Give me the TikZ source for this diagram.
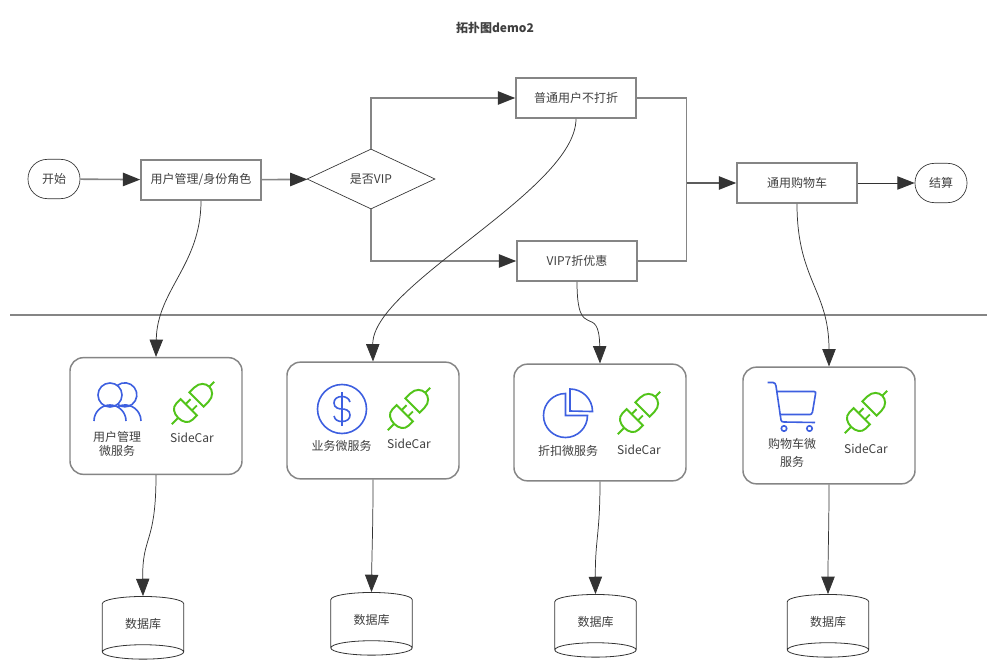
\documentclass[tikz,border=0pt]{standalone}
\usepackage{fontspec}
\setmainfont{Noto Sans CJK SC}
\usetikzlibrary{arrows.meta, shapes.geometric}

\definecolor{linegray}{HTML}{858585}
\definecolor{tipdark}{HTML}{333333}
\definecolor{textdark}{HTML}{404040}
\definecolor{iconblue}{HTML}{3D5FE0}
\definecolor{plugreen}{HTML}{52C41A}

\tikzset{
  every node/.style={font=\fontsize{9pt}{11pt}\selectfont, text=textdark, inner sep=0pt},
  flowbox/.style={draw=linegray, line width=1.2pt, minimum width=90pt, minimum height=30pt},
  endbox/.style={draw=tipdark, line width=0.5pt, rounded corners=14.5pt, minimum width=39pt, minimum height=29.5pt},
  choicebox/.style={draw=tipdark, line width=0.5pt, diamond, aspect=2.13, minimum width=96pt, minimum height=45pt},
  svcbox/.style={draw=linegray, line width=1.1pt, rounded corners=10pt, minimum width=129pt, minimum height=87.5pt},
  dbbox/.style={draw=tipdark, line width=0.6pt, cylinder, shape border rotate=270, shape aspect=0.4, minimum width=61pt, minimum height=47pt},
  tip/.style={-{Triangle[length=13pt,width=10pt,color=tipdark]}},
  flowline/.style={draw=linegray, line width=1.2pt},
  curveline/.style={draw=tipdark, line width=0.55pt, tip},
  iconline/.style={draw=iconblue, line width=1.2pt},
  plugline/.style={draw=plugreen, line width=1.45pt},
  plugicon/.pic={
    \begin{scope}[rotate=45, plugline]
      \draw (-6,-11.5) -- (-12,-11.5) .. controls (-18,-11.5) and (-21,-6) .. (-21,0)
        .. controls (-21,6) and (-18,11.5) .. (-12,11.5) -- (-6,11.5) -- cycle;
      \draw (5,-10) -- (12,-10) .. controls (19,-10) and (23,-5) .. (23,0)
        .. controls (23,5) and (19,10) .. (12,10) -- (5,10) -- cycle;
      \draw (-30,0) -- (-21,0);
      \draw (23,0) -- (30,0);
      \draw (-6,-4.5) -- (1,-4.5);
      \draw (-6,4.5) -- (1,4.5);
    \end{scope}
  }
}

\begin{document}
\begin{tikzpicture}[x=0.75pt, y=-0.75pt]
  \path[use as bounding box, fill=white] (0,0) rectangle (997,667);

  % Title and the separating line
  \node[font=\fontsize{9pt}{11pt}\selectfont\bfseries] (title) at (495,28) {拓扑图demo2};
  \coordinate (sepleft) at (10,315);
  \coordinate (sepright) at (987,315);
  \draw[flowline, line width=1pt] (sepleft) -- (sepright);

  % Upper flow nodes
  \node[endbox] (start) at (54,179) {开始};
  \node[flowbox] (user) at (201,180) {用户管理/身份角色};
  \node[choicebox] (isvip) at (371,179) {是否VIP};
  \node[flowbox] (normal) at (576,98) {普通用户不打折};
  \node[flowbox] (vip) at (577,261) {VIP7折优惠};
  \node[flowbox] (cart) at (797,183) {通用购物车};
  \node[endbox] (finish) at (941,183) {结算};
  \coordinate (merge) at (686.5,183);

  % Upper flow lines
  \draw[flowline, tip] (start) -- (user);
  \draw[flowline, tip] (user) -- (isvip);
  \draw[flowline, tip] (isvip.north) |- (normal.west);
  \draw[flowline, tip] (isvip.south) |- (vip.west);
  \draw[flowline] (normal.east) -| (merge);
  \draw[flowline] (vip.east) -| (merge);
  \draw[flowline, tip, draw=tipdark!80!white] (merge) -- (cart.west);
  \draw[curveline, line width=0.7pt] (cart) -- (finish);

  % Service boxes
  \node[svcbox] (svcuser) at (156,416) {};
  \node[svcbox] (svcbiz) at (373,420.5) {};
  \node[svcbox] (svcdisc) at (600,422.5) {};
  \node[svcbox] (svccart) at (829,425.5) {};

  % Service labels
  \node[align=center] (lbluser) at (117,444) {用户管理\\微服务};
  \node (lblbiz) at (341.5,446) {业务微服务};
  \node (lbldisc) at (568,451) {折扣微服务};
  \node[align=center, font=\fontsize{9pt}{14pt}\selectfont] (lblcart) at (792,453) {购物车微\\服务};
  \node (caruser) at (192,438) {SideCar};
  \node (carbiz) at (409,444) {SideCar};
  \node (cardisc) at (639,450) {SideCar};
  \node (carcart) at (866,449) {SideCar};

  % Plug icons
  \pic at (193,403) {plugicon};
  \pic at (409,409) {plugicon};
  \pic at (639,413) {plugicon};
  \pic at (866,412) {plugicon};

  % User icon
  \draw[iconline] (110,395) circle (12);
  \draw[iconline] (117.5,385.3) arc[start angle=127.6, end angle=-127.6, radius=9pt];
  \draw[iconline] (94,421) arc[start angle=180, end angle=0, radius=12pt];
  \draw[iconline] (117,407.1) arc[start angle=120, end angle=0, radius=12pt];

  % Dollar icon
  \draw[iconline] (342,409) circle (24.5);
  \begin{scope}[shift={(342,409)}]
    \draw[iconline] (0,-17) -- (0,17);
    \draw[iconline] (8,-7) .. controls (7,-11) and (3,-12.5) .. (0,-12.5)
      .. controls (-5,-12.5) and (-8,-10) .. (-8,-6)
      .. controls (-8,-1) and (-3,0) .. (0,0)
      .. controls (3,0) and (8,1) .. (8,6)
      .. controls (8,10) and (5,12.5) .. (0,12.5)
      .. controls (-4,12.5) and (-7,11) .. (-8,7);
  \end{scope}

  % Pie icon
  \draw[iconline] (565.5,393.5) arc[start angle=90, end angle=360, radius=16.5pt] -- (565.5,415.5) -- cycle;
  \draw[iconline] (570,389) arc[start angle=90, end angle=0, radius=16.9pt] -- (570,411) -- cycle;

  % Cart icon
  \draw[iconline] (767.5,382.5) -- (773,382.5) .. controls (775,382.5) and (775.5,384) .. (776,386)
    -- (781,420) .. controls (781.5,421.5) and (782,422) .. (784,422) -- (815,422.5);
  \draw[iconline] (776.5,391.5) -- (814,391.5) .. controls (815.5,391.5) and (816,392.5) .. (815.5,394)
    -- (812.5,412) .. controls (812,414) and (811,414.5) .. (810,414.5) -- (779.5,414.5);
  \draw[iconline] (784,428.5) circle (2.7);
  \draw[iconline] (809.5,428.5) circle (2.7);

  % Databases
  \node[dbbox] (dbuser) at (143,624) {数据库};
  \node[dbbox] (dbbiz) at (371.5,620) {数据库};
  \node[dbbox] (dbdisc) at (595.5,622) {数据库};
  \node[dbbox] (dbcart) at (828,622) {数据库};

  % Curved lines down to the services
  \draw[curveline] (user.south) .. controls (201,265) and (157,290) .. (svcuser.north);
  \draw[curveline] (normal.south) .. controls (576,190) and (372,285) .. (svcbiz.north);
  \draw[curveline] (vip.south) .. controls (577,345) and (599,300) .. (svcdisc.north);
  \draw[curveline] (cart.south) .. controls (797,280) and (829,290) .. (svccart.north);

  % Curved lines down to the databases
  \draw[curveline] (svcuser.south) .. controls (156,545) and (142,535) .. (dbuser.north);
  \draw[curveline] (svcbiz.south) .. controls (373,530) and (372,545) .. (dbbiz.north);
  \draw[curveline] (svcdisc.south) .. controls (600,535) and (595,540) .. (dbdisc.north);
  \draw[curveline] (svccart.south) .. controls (829,530) and (828,550) .. (dbcart.north);
\end{tikzpicture}
\end{document}
